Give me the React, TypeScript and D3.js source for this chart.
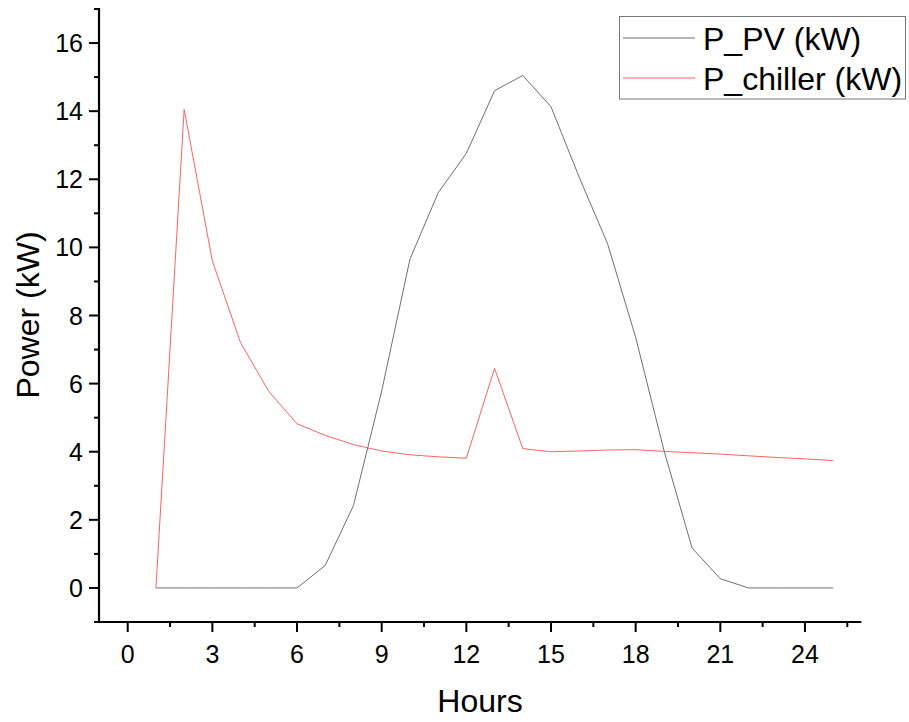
import React from "react";
import * as d3 from "d3";

const hours = [1, 2, 3, 4, 5, 6, 7, 8, 9, 10, 11, 12, 13, 14, 15, 16, 17, 18, 19, 20, 21, 22, 23, 24, 25];
const pvPower = [0, 0, 0, 0, 0, 0, 0.66, 2.42, 5.78, 9.65, 11.6, 12.76, 14.6, 15.05, 14.13, 12.06, 10.12, 7.36, 4.05, 1.17, 0.27, 0, 0, 0, 0];
const chillerPower = [0, 14.05, 9.6, 7.2, 5.77, 4.82, 4.48, 4.21, 4.02, 3.91, 3.85, 3.81, 6.45, 4.09, 4.0, 4.02, 4.05, 4.06, 4.01, 3.97, 3.93, 3.88, 3.83, 3.79, 3.74];
const xMajorTicks = [0, 3, 6, 9, 12, 15, 18, 21, 24];
const xMinorTicks = [1.5, 4.5, 7.5, 10.5, 13.5, 16.5, 19.5, 22.5, 25.5];
const yMajorTicks = [0, 2, 4, 6, 8, 10, 12, 14, 16];
const yMinorTicks = [-1, 1, 3, 5, 7, 9, 11, 13, 15, 17];
const seriesNames = ["P_PV (kW)", "P_chiller (kW)"];
const seriesColors = ["#707070", "#ff6262"];

const FONT = "'Liberation Sans', Arial, Helvetica, sans-serif";

export default function App() {
  const x = d3.scaleLinear().domain([-1, 26]).range([99.5, 861.4]);
  const y = d3.scaleLinear().domain([-1, 17]).range([622, 9]);
  const axisX = 99;
  const axisY = 622;

  const line = d3
    .line<[number, number]>()
    .x((d) => x(d[0]))
    .y((d) => y(d[1]));

  const pvData: [number, number][] = hours.map((h, i) => [h, pvPower[i]]);
  const chData: [number, number][] = hours.map((h, i) => [h, chillerPower[i]]);

  return (
    <svg
      width={909}
      height={722}
      style={{ position: "absolute", left: 0, top: 0, background: "#fff" }}
      fontFamily={FONT}
    >
      <rect x={0} y={0} width={909} height={722} fill="#fff" />
      {/* data lines */}
      <path d={line(pvData) || ""} fill="none" stroke={seriesColors[0]} strokeWidth={1} />
      <path d={line(chData) || ""} fill="none" stroke={seriesColors[1]} strokeWidth={1} />

      {/* y axis */}
      <line x1={axisX} x2={axisX} y1={y(17) - 1} y2={axisY + 1} stroke="#000" strokeWidth={2.2} />
      {yMajorTicks.map((t) => (
        <g key={"ym" + t}>
          <line x1={axisX - 10} x2={axisX} y1={y(t)} y2={y(t)} stroke="#000" strokeWidth={2} />
          <text x={83} y={y(t)} dy="0.36em" textAnchor="end" fontSize={25} fill="#000">
            {t}
          </text>
        </g>
      ))}
      {yMinorTicks.map((t) => (
        <line key={"yn" + t} x1={axisX - 5} x2={axisX} y1={y(t)} y2={y(t)} stroke="#000" strokeWidth={2} />
      ))}

      {/* x axis */}
      <line x1={axisX - 5} x2={x(26)} y1={axisY} y2={axisY} stroke="#000" strokeWidth={2.2} />
      {xMajorTicks.map((t) => (
        <g key={"xm" + t}>
          <line x1={x(t)} x2={x(t)} y1={axisY} y2={axisY + 10} stroke="#000" strokeWidth={2} />
          <text x={x(t)} y={663} textAnchor="middle" fontSize={25} fill="#000">
            {t}
          </text>
        </g>
      ))}
      {xMinorTicks.map((t) => (
        <line key={"xn" + t} x1={x(t)} x2={x(t)} y1={axisY} y2={axisY + 5} stroke="#000" strokeWidth={2} />
      ))}

      {/* axis titles */}
      <text x={480} y={712} textAnchor="middle" fontSize={32} fill="#000">
        Hours
      </text>
      <text transform="translate(39,315) rotate(-90)" textAnchor="middle" fontSize={32} fill="#000">
        Power (kW)
      </text>

      {/* legend */}
      <rect x={619.5} y={16.5} width={286} height={82.5} fill="#fff" stroke="#777" strokeWidth={1} />
      {seriesNames.map((name, i) => (
        <g key={name}>
          <line x1={623} x2={695} y1={38 + i * 40} y2={38 + i * 40} stroke={seriesColors[i]} strokeWidth={1} />
          <text x={703} y={50 + i * 39.5} fontSize={32} fill="#000">
            {name}
          </text>
        </g>
      ))}
    </svg>
  );
}
